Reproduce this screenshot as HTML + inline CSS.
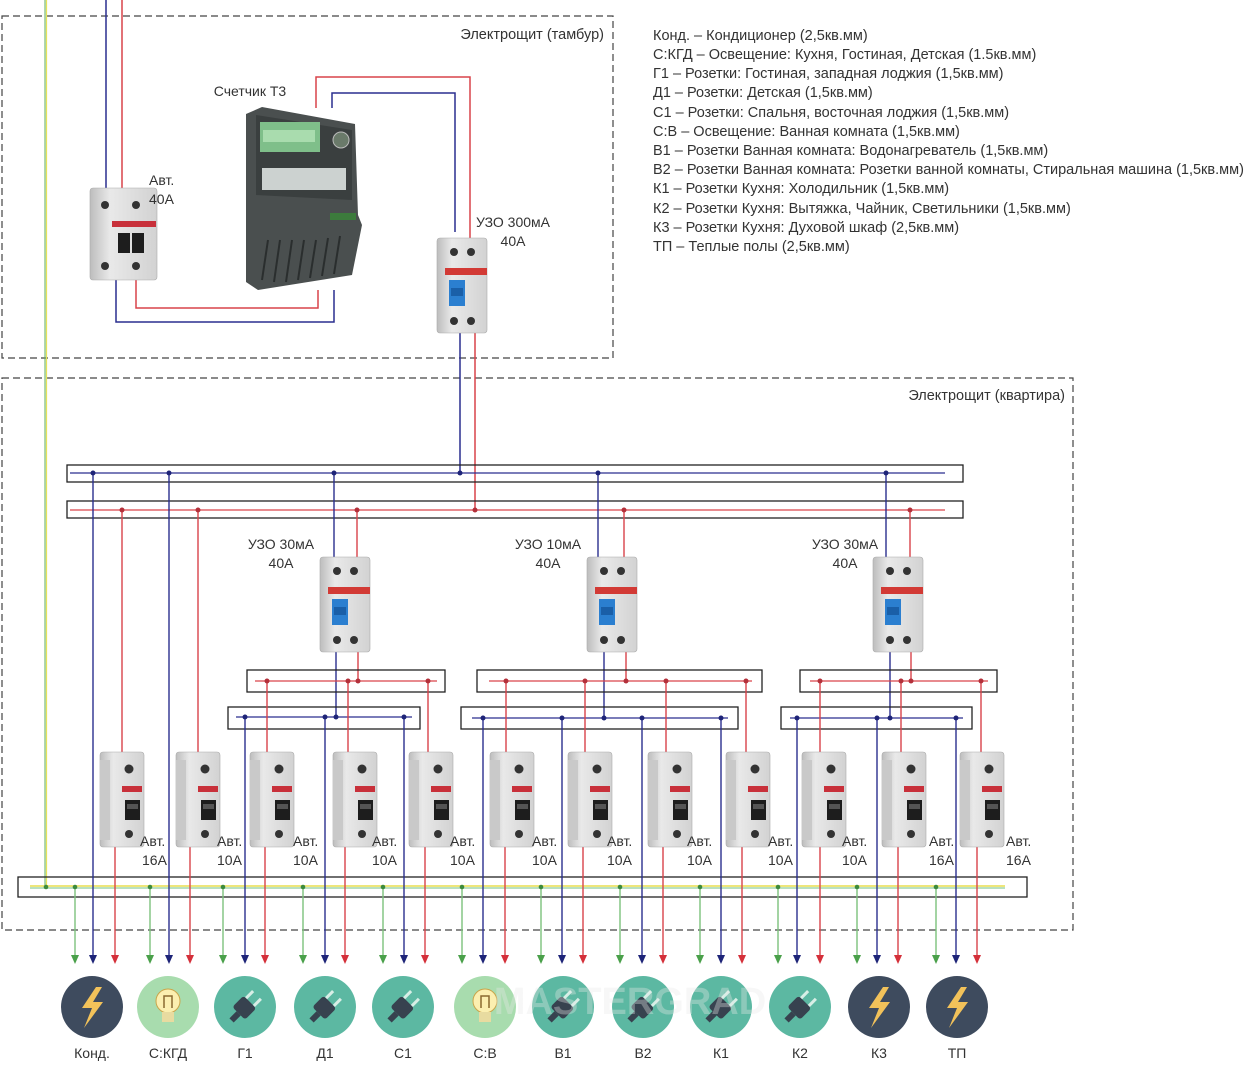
<!DOCTYPE html>
<html><head><meta charset="utf-8"><style>
html,body{margin:0;padding:0;background:#fff;}
svg{display:block;}
text{font-family:"Liberation Sans","DejaVu Sans",sans-serif;fill:#333;}
</style></head><body>
<svg width="1257" height="1072" viewBox="0 0 1257 1072" xmlns="http://www.w3.org/2000/svg">
<defs>
<linearGradient id="gb" x1="0" x2="1"><stop offset="0" stop-color="#bdbdbd"/><stop offset="0.3" stop-color="#e9e9e9"/><stop offset="1" stop-color="#d2d2d2"/></linearGradient>
<g id="brk">
 <rect x="0" y="0" width="44" height="95" rx="3" fill="url(#gb)" stroke="#aaa" stroke-width="0.6"/>
 <rect x="0" y="8" width="10" height="80" fill="#c9c9c9"/>
 <circle cx="29" cy="17" r="4.5" fill="#333"/>
 <rect x="22" y="34" width="20" height="6" fill="#c8303a"/>
 <rect x="25" y="48" width="15" height="20" fill="#1d1d1d"/>
 <rect x="27" y="52" width="11" height="5" fill="#555"/>
 <circle cx="29" cy="82" r="4" fill="#333"/>
</g>
<g id="uzo">
 <rect x="0" y="0" width="50" height="95" rx="3" fill="url(#gb)" stroke="#aaa" stroke-width="0.6"/>
 <circle cx="17" cy="14" r="4" fill="#333"/><circle cx="34" cy="14" r="4" fill="#333"/>
 <rect x="8" y="30" width="42" height="7" fill="#d23a35"/>
 <rect x="12" y="42" width="16" height="26" fill="#2b7fd0"/>
 <rect x="14" y="50" width="12" height="8" fill="#1a5fa8"/>
 <circle cx="17" cy="83" r="4" fill="#333"/><circle cx="34" cy="83" r="4" fill="#333"/>
</g>
</defs>

<rect x="2" y="16" width="611" height="342" fill="none" stroke="#444" stroke-width="1.2" stroke-dasharray="7,4"/>
<rect x="2" y="378" width="1071" height="552" fill="none" stroke="#444" stroke-width="1.2" stroke-dasharray="7,4"/>
<text x="604" y="39" font-size="14.5" text-anchor="end">Электрощит (тамбур)</text>
<text x="1065" y="400" font-size="14.5" text-anchor="end">Электрощит (квартира)</text>

<g font-size="14.5">
<text x="653" y="40">Конд. – Кондиционер (2,5кв.мм)</text>
<text x="653" y="59">С:КГД – Освещение: Кухня, Гостиная, Детская (1.5кв.мм)</text>
<text x="653" y="78">Г1 – Розетки: Гостиная, западная лоджия (1,5кв.мм)</text>
<text x="653" y="97">Д1 – Розетки: Детская (1,5кв.мм)</text>
<text x="653" y="117">С1 – Розетки: Спальня, восточная лоджия (1,5кв.мм)</text>
<text x="653" y="136">С:В – Освещение: Ванная комната (1,5кв.мм)</text>
<text x="653" y="155">В1 – Розетки Ванная комната: Водонагреватель (1,5кв.мм)</text>
<text x="653" y="174">В2 – Розетки Ванная комната: Розетки ванной комнаты, Стиральная машина (1,5кв.мм)</text>
<text x="653" y="193">К1 – Розетки Кухня: Холодильник (1,5кв.мм)</text>
<text x="653" y="213">К2 – Розетки Кухня: Вытяжка, Чайник, Светильники (1,5кв.мм)</text>
<text x="653" y="232">К3 – Розетки Кухня: Духовой шкаф (2,5кв.мм)</text>
<text x="653" y="251">ТП – Теплые полы (2,5кв.мм)</text>
</g>

<line x1="45" y1="0" x2="45" y2="887" stroke="#5fae5f" stroke-width="1"/>
<line x1="46.5" y1="0" x2="46.5" y2="887" stroke="#e6e35a" stroke-width="1.2"/>

<g fill="none" stroke-width="1.5">
<polyline points="106,0 106,190" stroke="#2a2f8f"/>
<polyline points="122,0 122,190" stroke="#d9434a"/>
<polyline points="116,280 116,322 334,322 334,290" stroke="#2a2f8f"/>
<polyline points="136,280 136,308 318,308 318,290" stroke="#d9434a"/>
<polyline points="316,108 316,77 470,77 470,240" stroke="#d9434a"/>
<polyline points="332,108 332,93 455,93 455,232" stroke="#2a2f8f"/>
<polyline points="460,333 460,473" stroke="#2a2f8f"/>
<polyline points="475,333 475,510" stroke="#d9434a"/>
</g>
<g transform="translate(90,188)">
 <rect width="67" height="92" rx="3" fill="url(#gb)" stroke="#aaa" stroke-width="0.6"/>
 <circle cx="15" cy="17" r="4" fill="#333"/><circle cx="46" cy="17" r="4" fill="#333"/>
 <rect x="22" y="33" width="44" height="6" fill="#c8303a"/>
 <rect x="28" y="45" width="12" height="20" fill="#1d1d1d"/><rect x="42" y="45" width="12" height="20" fill="#1d1d1d"/>
 <circle cx="15" cy="78" r="4" fill="#333"/><circle cx="46" cy="78" r="4" fill="#333"/>
</g>
<text x="149" y="185" font-size="14">Авт.</text>
<text x="149" y="204" font-size="14">40А</text>
<text x="250" y="96" font-size="14" text-anchor="middle">Счетчик Т3</text>
<g>
 <polygon points="246,114 262,107 355,124 358,215 362,225 352,275 258,290 246,282" fill="#4a4f4f"/>
 <polygon points="256,115 352,130 352,200 256,195" fill="#3a3f3f"/>
 <rect x="260" y="122" width="60" height="30" fill="#7fbf8a"/>
 <rect x="263" y="130" width="52" height="12" fill="#a9dcae"/>
 <circle cx="341" cy="140" r="8" fill="#6a7a6a" stroke="#bbb"/>
 <rect x="262" y="168" width="84" height="22" fill="#ccd2d0"/>
 <rect x="330" y="213" width="26" height="7" fill="#3c7b3c"/>
 <g stroke="#2a2e2e" stroke-width="2"><line x1="268" y1="240" x2="262" y2="280"/><line x1="280" y1="240" x2="274" y2="282"/><line x1="292" y1="240" x2="286" y2="282"/><line x1="304" y1="240" x2="298" y2="280"/><line x1="316" y1="240" x2="310" y2="278"/><line x1="328" y1="238" x2="322" y2="276"/><line x1="340" y1="236" x2="334" y2="274"/></g>
</g>
<use href="#uzo" x="437" y="238"/>
<text x="513" y="227" font-size="14" text-anchor="middle">УЗО 300мА</text>
<text x="513" y="246" font-size="14" text-anchor="middle">40А</text>

<rect x="67" y="465" width="896" height="17" fill="none" stroke="#222" stroke-width="1.3"/>
<line x1="70" y1="473" x2="945" y2="473" stroke="#2a2f8f" stroke-width="1.3"/>
<rect x="67" y="501" width="896" height="17" fill="none" stroke="#222" stroke-width="1.3"/>
<line x1="70" y1="510" x2="945" y2="510" stroke="#d9434a" stroke-width="1.3"/>

<g fill="none" stroke-width="1.4">
<polyline points="334,473 334,560" stroke="#2a2f8f"/><polyline points="357,510 357,560" stroke="#d9434a"/>
<polyline points="336,650 336,717" stroke="#2a2f8f"/><polyline points="358,650 358,681" stroke="#d9434a"/>
<polyline points="598,473 598,560" stroke="#2a2f8f"/><polyline points="624,510 624,560" stroke="#d9434a"/>
<polyline points="604,650 604,718" stroke="#2a2f8f"/><polyline points="626,650 626,681" stroke="#d9434a"/>
<polyline points="886,473 886,560" stroke="#2a2f8f"/><polyline points="910,510 910,560" stroke="#d9434a"/>
<polyline points="890,650 890,718" stroke="#2a2f8f"/><polyline points="911,650 911,681" stroke="#d9434a"/>
</g>
<use href="#uzo" x="320" y="557"/>
<use href="#uzo" x="587" y="557"/>
<use href="#uzo" x="873" y="557"/>
<g font-size="14" text-anchor="middle">
<text x="281" y="549">УЗО 30мА</text><text x="281" y="568">40А</text>
<text x="548" y="549">УЗО 10мА</text><text x="548" y="568">40А</text>
<text x="845" y="549">УЗО 30мА</text><text x="845" y="568">40А</text>
</g>

<g fill="none" stroke="#222" stroke-width="1.3">
<rect x="247" y="670" width="198" height="22"/><rect x="228" y="707" width="192" height="22"/>
<rect x="477" y="670" width="285" height="22"/><rect x="461" y="707" width="277" height="22"/>
<rect x="800" y="670" width="197" height="22"/><rect x="781" y="707" width="191" height="22"/>
</g>
<g stroke-width="1.3">
<line x1="255" y1="681" x2="437" y2="681" stroke="#d9434a"/><line x1="236" y1="717" x2="412" y2="717" stroke="#2a2f8f"/>
<line x1="489" y1="681" x2="752" y2="681" stroke="#d9434a"/><line x1="472" y1="718" x2="728" y2="718" stroke="#2a2f8f"/>
<line x1="810" y1="681" x2="988" y2="681" stroke="#d9434a"/><line x1="790" y1="718" x2="963" y2="718" stroke="#2a2f8f"/>
</g>

<rect x="18" y="877" width="1009" height="20" fill="none" stroke="#222" stroke-width="1.3"/>
<line x1="30" y1="886" x2="1005" y2="886" stroke="#eee67a" stroke-width="2"/>
<line x1="30" y1="888" x2="1005" y2="888" stroke="#8fcf9a" stroke-width="1.2"/>

<g stroke="#d9434a" stroke-width="1.4" fill="none">
<line x1="122" y1="510" x2="122" y2="755"/><line x1="198" y1="510" x2="198" y2="755"/>
<line x1="267" y1="681" x2="267" y2="755"/><line x1="348" y1="681" x2="348" y2="755"/><line x1="428" y1="681" x2="428" y2="755"/>
<line x1="506" y1="681" x2="506" y2="755"/><line x1="585" y1="681" x2="585" y2="755"/><line x1="666" y1="681" x2="666" y2="755"/><line x1="746" y1="681" x2="746" y2="755"/>
<line x1="820" y1="681" x2="820" y2="755"/><line x1="901" y1="681" x2="901" y2="755"/><line x1="981" y1="681" x2="981" y2="755"/>
<line x1="115" y1="845" x2="115" y2="955"/><line x1="190" y1="845" x2="190" y2="955"/><line x1="265" y1="845" x2="265" y2="955"/><line x1="345" y1="845" x2="345" y2="955"/><line x1="425" y1="845" x2="425" y2="955"/><line x1="505" y1="845" x2="505" y2="955"/><line x1="583" y1="845" x2="583" y2="955"/><line x1="663" y1="845" x2="663" y2="955"/><line x1="742" y1="845" x2="742" y2="955"/><line x1="820" y1="845" x2="820" y2="955"/><line x1="898" y1="845" x2="898" y2="955"/><line x1="977" y1="845" x2="977" y2="955"/>
</g>
<g stroke="#2a2f8f" stroke-width="1.4">
<line x1="93" y1="473" x2="93" y2="955"/><line x1="169" y1="473" x2="169" y2="955"/>
<line x1="245" y1="717" x2="245" y2="955"/><line x1="325" y1="717" x2="325" y2="955"/><line x1="404" y1="717" x2="404" y2="955"/>
<line x1="483" y1="718" x2="483" y2="955"/><line x1="562" y1="718" x2="562" y2="955"/><line x1="642" y1="718" x2="642" y2="955"/><line x1="721" y1="718" x2="721" y2="955"/>
<line x1="797" y1="718" x2="797" y2="955"/><line x1="877" y1="718" x2="877" y2="955"/><line x1="956" y1="718" x2="956" y2="955"/>
</g>
<g stroke="#7cc27c" stroke-width="1.4">
<line x1="75" y1="887" x2="75" y2="955"/><line x1="150" y1="887" x2="150" y2="955"/><line x1="223" y1="887" x2="223" y2="955"/><line x1="303" y1="887" x2="303" y2="955"/><line x1="383" y1="887" x2="383" y2="955"/><line x1="462" y1="887" x2="462" y2="955"/><line x1="541" y1="887" x2="541" y2="955"/><line x1="620" y1="887" x2="620" y2="955"/><line x1="700" y1="887" x2="700" y2="955"/><line x1="778" y1="887" x2="778" y2="955"/><line x1="857" y1="887" x2="857" y2="955"/><line x1="936" y1="887" x2="936" y2="955"/>
</g>

<use href="#brk" x="100" y="752"/><use href="#brk" x="176" y="752"/><use href="#brk" x="250" y="752"/><use href="#brk" x="333" y="752"/><use href="#brk" x="409" y="752"/><use href="#brk" x="490" y="752"/><use href="#brk" x="568" y="752"/><use href="#brk" x="648" y="752"/><use href="#brk" x="726" y="752"/><use href="#brk" x="802" y="752"/><use href="#brk" x="882" y="752"/><use href="#brk" x="960" y="752"/>
<g font-size="14">
<text x="140" y="846">Авт.</text><text x="142" y="865">16А</text>
<text x="217" y="846">Авт.</text><text x="217" y="865">10А</text>
<text x="293" y="846">Авт.</text><text x="293" y="865">10А</text>
<text x="372" y="846">Авт.</text><text x="372" y="865">10А</text>
<text x="450" y="846">Авт.</text><text x="450" y="865">10А</text>
<text x="532" y="846">Авт.</text><text x="532" y="865">10А</text>
<text x="607" y="846">Авт.</text><text x="607" y="865">10А</text>
<text x="687" y="846">Авт.</text><text x="687" y="865">10А</text>
<text x="768" y="846">Авт.</text><text x="768" y="865">10А</text>
<text x="842" y="846">Авт.</text><text x="842" y="865">10А</text>
<text x="929" y="846">Авт.</text><text x="929" y="865">16А</text>
<text x="1006" y="846">Авт.</text><text x="1006" y="865">16А</text>
</g>

<g fill="#1e2478">
<circle cx="93" cy="473" r="2.5"/><circle cx="169" cy="473" r="2.5"/><circle cx="334" cy="473" r="2.5"/><circle cx="460" cy="473" r="2.5"/><circle cx="598" cy="473" r="2.5"/><circle cx="886" cy="473" r="2.5"/>
<circle cx="245" cy="717" r="2.5"/><circle cx="325" cy="717" r="2.5"/><circle cx="336" cy="717" r="2.5"/><circle cx="404" cy="717" r="2.5"/>
<circle cx="483" cy="718" r="2.5"/><circle cx="562" cy="718" r="2.5"/><circle cx="604" cy="718" r="2.5"/><circle cx="642" cy="718" r="2.5"/><circle cx="721" cy="718" r="2.5"/>
<circle cx="797" cy="718" r="2.5"/><circle cx="877" cy="718" r="2.5"/><circle cx="890" cy="718" r="2.5"/><circle cx="956" cy="718" r="2.5"/>
</g>
<g fill="#b3303a">
<circle cx="122" cy="510" r="2.5"/><circle cx="198" cy="510" r="2.5"/><circle cx="357" cy="510" r="2.5"/><circle cx="475" cy="510" r="2.5"/><circle cx="624" cy="510" r="2.5"/><circle cx="910" cy="510" r="2.5"/>
<circle cx="267" cy="681" r="2.5"/><circle cx="348" cy="681" r="2.5"/><circle cx="358" cy="681" r="2.5"/><circle cx="428" cy="681" r="2.5"/>
<circle cx="506" cy="681" r="2.5"/><circle cx="585" cy="681" r="2.5"/><circle cx="626" cy="681" r="2.5"/><circle cx="666" cy="681" r="2.5"/><circle cx="746" cy="681" r="2.5"/>
<circle cx="820" cy="681" r="2.5"/><circle cx="901" cy="681" r="2.5"/><circle cx="911" cy="681" r="2.5"/><circle cx="981" cy="681" r="2.5"/>
</g>
<g fill="#3c8a3c">
<circle cx="46" cy="887" r="2.3"/><circle cx="75" cy="887" r="2.3"/><circle cx="150" cy="887" r="2.3"/><circle cx="223" cy="887" r="2.3"/><circle cx="303" cy="887" r="2.3"/><circle cx="383" cy="887" r="2.3"/><circle cx="462" cy="887" r="2.3"/><circle cx="541" cy="887" r="2.3"/><circle cx="620" cy="887" r="2.3"/><circle cx="700" cy="887" r="2.3"/><circle cx="778" cy="887" r="2.3"/><circle cx="857" cy="887" r="2.3"/><circle cx="936" cy="887" r="2.3"/>
</g>

<g fill="#4aa04a">
<polygon points="71,955 79,955 75,964"/><polygon points="146,955 154,955 150,964"/><polygon points="219,955 227,955 223,964"/><polygon points="299,955 307,955 303,964"/><polygon points="379,955 387,955 383,964"/><polygon points="458,955 466,955 462,964"/><polygon points="537,955 545,955 541,964"/><polygon points="616,955 624,955 620,964"/><polygon points="696,955 704,955 700,964"/><polygon points="774,955 782,955 778,964"/><polygon points="853,955 861,955 857,964"/><polygon points="932,955 940,955 936,964"/>
</g>
<g fill="#1e2478">
<polygon points="89,955 97,955 93,964"/><polygon points="165,955 173,955 169,964"/><polygon points="241,955 249,955 245,964"/><polygon points="321,955 329,955 325,964"/><polygon points="400,955 408,955 404,964"/><polygon points="479,955 487,955 483,964"/><polygon points="558,955 566,955 562,964"/><polygon points="638,955 646,955 642,964"/><polygon points="717,955 725,955 721,964"/><polygon points="793,955 801,955 797,964"/><polygon points="873,955 881,955 877,964"/><polygon points="952,955 960,955 956,964"/>
</g>
<g fill="#d4303a">
<polygon points="111,955 119,955 115,964"/><polygon points="186,955 194,955 190,964"/><polygon points="261,955 269,955 265,964"/><polygon points="341,955 349,955 345,964"/><polygon points="421,955 429,955 425,964"/><polygon points="501,955 509,955 505,964"/><polygon points="579,955 587,955 583,964"/><polygon points="659,955 667,955 663,964"/><polygon points="738,955 746,955 742,964"/><polygon points="816,955 824,955 820,964"/><polygon points="894,955 902,955 898,964"/><polygon points="973,955 981,955 977,964"/>
</g>

<g>
<circle cx="92" cy="1007" r="31" fill="#3e4b5e"/>
<polygon points="96,987 82,1008 92,1008 84,1028 103,1002 93,1002 102,987" fill="#f2c25a"/>
<circle cx="168" cy="1007" r="31" fill="#a8dcae"/>
<circle cx="168" cy="1001" r="12" fill="#fbefb0" stroke="#caa54a"/><rect x="162" y="1012" width="12" height="10" fill="#e8dba0"/><path d="M164,1008 V996 H172 V1008" fill="none" stroke="#8a6a30" stroke-width="1.5"/>
<circle cx="245" cy="1007" r="31" fill="#5cb8a2"/>
<circle cx="325" cy="1007" r="31" fill="#5cb8a2"/>
<circle cx="403" cy="1007" r="31" fill="#5cb8a2"/>
<circle cx="485" cy="1007" r="31" fill="#a8dcae"/>
<circle cx="485" cy="1001" r="12" fill="#fbefb0" stroke="#caa54a"/><rect x="479" y="1012" width="12" height="10" fill="#e8dba0"/><path d="M481,1008 V996 H489 V1008" fill="none" stroke="#8a6a30" stroke-width="1.5"/>
<circle cx="563" cy="1007" r="31" fill="#5cb8a2"/>
<circle cx="643" cy="1007" r="31" fill="#5cb8a2"/>
<circle cx="721" cy="1007" r="31" fill="#5cb8a2"/>
<circle cx="800" cy="1007" r="31" fill="#5cb8a2"/>
<circle cx="879" cy="1007" r="31" fill="#3e4b5e"/>
<polygon points="883,987 869,1008 879,1008 871,1028 890,1002 880,1002 889,987" fill="#f2c25a"/>
<circle cx="957" cy="1007" r="31" fill="#3e4b5e"/>
<polygon points="961,987 947,1008 957,1008 949,1028 968,1002 958,1002 967,987" fill="#f2c25a"/>
</g>
<g fill="#37424f">
<g transform="translate(245,1007) rotate(45)"><rect x="-9" y="-7" width="18" height="16" rx="3"/><rect x="-3" y="9" width="6" height="10"/><rect x="-7" y="-17" width="3" height="10" fill="#d8eee6"/><rect x="4" y="-17" width="3" height="10" fill="#d8eee6"/></g>
<g transform="translate(325,1007) rotate(45)"><rect x="-9" y="-7" width="18" height="16" rx="3"/><rect x="-3" y="9" width="6" height="10"/><rect x="-7" y="-17" width="3" height="10" fill="#d8eee6"/><rect x="4" y="-17" width="3" height="10" fill="#d8eee6"/></g>
<g transform="translate(403,1007) rotate(45)"><rect x="-9" y="-7" width="18" height="16" rx="3"/><rect x="-3" y="9" width="6" height="10"/><rect x="-7" y="-17" width="3" height="10" fill="#d8eee6"/><rect x="4" y="-17" width="3" height="10" fill="#d8eee6"/></g>
<g transform="translate(563,1007) rotate(45)"><rect x="-9" y="-7" width="18" height="16" rx="3"/><rect x="-3" y="9" width="6" height="10"/><rect x="-7" y="-17" width="3" height="10" fill="#d8eee6"/><rect x="4" y="-17" width="3" height="10" fill="#d8eee6"/></g>
<g transform="translate(643,1007) rotate(45)"><rect x="-9" y="-7" width="18" height="16" rx="3"/><rect x="-3" y="9" width="6" height="10"/><rect x="-7" y="-17" width="3" height="10" fill="#d8eee6"/><rect x="4" y="-17" width="3" height="10" fill="#d8eee6"/></g>
<g transform="translate(721,1007) rotate(45)"><rect x="-9" y="-7" width="18" height="16" rx="3"/><rect x="-3" y="9" width="6" height="10"/><rect x="-7" y="-17" width="3" height="10" fill="#d8eee6"/><rect x="4" y="-17" width="3" height="10" fill="#d8eee6"/></g>
<g transform="translate(800,1007) rotate(45)"><rect x="-9" y="-7" width="18" height="16" rx="3"/><rect x="-3" y="9" width="6" height="10"/><rect x="-7" y="-17" width="3" height="10" fill="#d8eee6"/><rect x="4" y="-17" width="3" height="10" fill="#d8eee6"/></g>
</g>
<text x="630" y="1014" font-size="38" font-weight="bold" text-anchor="middle" style="fill:#e8e8e8;fill-opacity:0.35">MASTERGRAD</text>
<g font-size="14" text-anchor="middle">
<text x="92" y="1058">Конд.</text><text x="168" y="1058">С:КГД</text><text x="245" y="1058">Г1</text><text x="325" y="1058">Д1</text><text x="403" y="1058">С1</text><text x="485" y="1058">С:В</text><text x="563" y="1058">В1</text><text x="643" y="1058">В2</text><text x="721" y="1058">К1</text><text x="800" y="1058">К2</text><text x="879" y="1058">К3</text><text x="957" y="1058">ТП</text>
</g>
</svg>
</body></html>
